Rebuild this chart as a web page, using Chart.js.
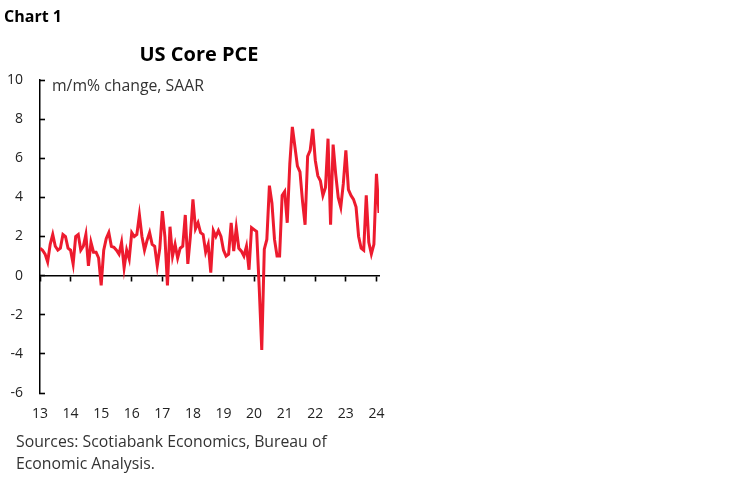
<!DOCTYPE html>
<html>
<head>
<meta charset="utf-8">
<script src="https://cdn.jsdelivr.net/npm/chart.js@4.4.1/dist/chart.umd.min.js"></script>
<style>
  html, body { margin: 0; padding: 0; background: #fff; }
  #wrap { position: relative; width: 748px; height: 483px; overflow: hidden; font-family: "Open Sans", "Noto Sans", sans-serif; }
  #c { position: absolute; left: 0; top: 0; }
  .t { position: absolute; white-space: nowrap; }
  #chartNo { left: 4px; top: 8px; font-size: 16px; line-height: 16px; font-weight: 700; color: #000; }
  #title { left: 0; width: 398px; text-align: center; top: 44px; font-size: 20px; line-height: 20px; font-weight: 700; color: #000; }
  #unit { left: 52px; top: 77px; font-size: 15.8px; line-height: 16px; color: #333; }
  #src { left: 16px; top: 430px; font-size: 15.8px; line-height: 22px; color: #333; white-space: normal; width: 400px; }
</style>
</head>
<body>
<div id="wrap">
  <canvas id="c" width="748" height="483"></canvas>
  <div class="t" id="chartNo">Chart 1</div>
  <div class="t" id="title">US Core PCE</div>
  <div class="t" id="unit">m/m% change, SAAR</div>
  <div class="t" id="src">Sources: Scotiabank Economics, Bureau of<br>Economic Analysis.</div>
</div>
<script>
// Monthly core PCE, m/m % change SAAR (Jan 2013 .. Feb 2024)
const pce2013 = [1.4, 1.3, 1.1, 0.7, 1.6, 2.1, 1.5, 1.3, 1.4, 2.1, 2.0, 1.4];
const pce2014 = [1.3, 0.6, 2.0, 2.1, 1.3, 1.5, 2.1, 0.5, 1.7, 1.2, 1.2, 0.9];
const pce2015 = [-0.5, 1.3, 1.9, 2.2, 1.5, 1.45, 1.3, 1.1, 1.7, 0.4, 1.3, 0.85];
const pce2016 = [2.2, 2.0, 2.1, 3.1, 2.0, 1.3, 1.8, 2.2, 1.6, 1.5, 0.5, 1.4];
const pce2017 = [3.3, 2.0, -0.5, 2.5, 1.0, 1.6, 0.9, 1.4, 1.5, 3.1, 0.6, 2.0];
const pce2018 = [3.9, 2.4, 2.7, 2.2, 2.1, 1.2, 1.6, 0.15, 2.3, 2.0, 2.3, 2.0];
const pce2019 = [1.3, 1.0, 1.1, 2.7, 1.25, 2.45, 1.4, 1.25, 1.0, 1.5, 0.3, 2.45];
const pce2020 = [2.35, 2.25, -0.6, -3.8, 1.35, 1.85, 4.6, 3.7, 1.85, 1.0, 1.0, 4.1];
const pce2021 = [4.3, 2.7, 5.7, 7.6, 6.6, 5.6, 5.3, 3.8, 2.6, 6.1, 6.4, 7.5];
const pce2022 = [5.9, 5.1, 4.85, 4.1, 4.5, 7.0, 2.6, 6.7, 5.2, 4.0, 3.5, 4.7];
const pce2023 = [6.4, 4.4, 4.1, 3.9, 3.5, 2.0, 1.4, 1.3, 4.1, 1.7, 1.1, 1.6];
const pce2024 = [5.2, 3.2];

const yearLabels = ['13','14','15','16','17','18','19','20','21','22','23','24'];
const yTicks = [-6, -4, -2, 0, 2, 4, 6, 8, 10];

const series = [].concat(pce2013, pce2014, pce2015, pce2016, pce2017, pce2018,
                         pce2019, pce2020, pce2021, pce2022, pce2023, pce2024);
const points = series.map((v, i) => ({ x: i, y: v }));
const lastIndex = series.length - 1;
const yearTickValues = yearLabels.map((_, i) => i * 12);

const tickFont = { family: '"Open Sans", "Noto Sans", sans-serif', size: 14 };

new Chart(document.getElementById('c'), {
  type: 'line',
  data: {
    datasets: [{
      data: points,
      borderColor: '#ED1B2E',
      borderWidth: 3,
      pointRadius: 0,
      tension: 0,
      fill: false
    }]
  },
  options: {
    responsive: false,
    devicePixelRatio: 1,
    animation: false,
    events: [],
    layout: { padding: { left: 0, right: 369, top: 80, bottom: 60 } },
    plugins: { legend: { display: false }, tooltip: { enabled: false }, title: { display: false } },
    scales: {
      x: {
        type: 'linear',
        position: 'bottom',
        min: 0,
        max: lastIndex,
        afterBuildTicks: s => { s.ticks = yearTickValues.map(v => ({ value: v })); },
        afterFit: s => { s.height = 30; },
        grid: { display: false, drawTicks: false },
        border: { display: false },
        ticks: {
          autoSkip: false,
          maxRotation: 0,
          padding: 13,
          color: '#222',
          font: tickFont,
          callback: (v) => yearLabels[Math.round(v / 12)]
        }
      },
      x2: {
        type: 'linear',
        axis: 'x',
        position: { y: 0 },
        min: 0,
        max: lastIndex,
        afterBuildTicks: s => { s.ticks = yearTickValues.map(v => ({ value: v })); },
        grid: { drawOnChartArea: false, drawTicks: true, tickLength: 5, color: '#000', tickWidth: 1.6 },
        border: { display: true, color: '#000', width: 1.5 },
        ticks: { display: false }
      },
      y: {
        type: 'linear',
        position: 'left',
        min: -6,
        max: 10,
        afterBuildTicks: s => { s.ticks = yTicks.map(v => ({ value: v })); },
        afterFit: s => { s.width = 40; },
        grid: { drawOnChartArea: false, drawTicks: true, tickLength: -5, color: '#000', tickWidth: 1.6 },
        border: { display: true, color: '#000', width: 1.5 },
        ticks: { padding: 22, color: '#222', font: tickFont }
      }
    }
  }
});
</script>
</body>
</html>
